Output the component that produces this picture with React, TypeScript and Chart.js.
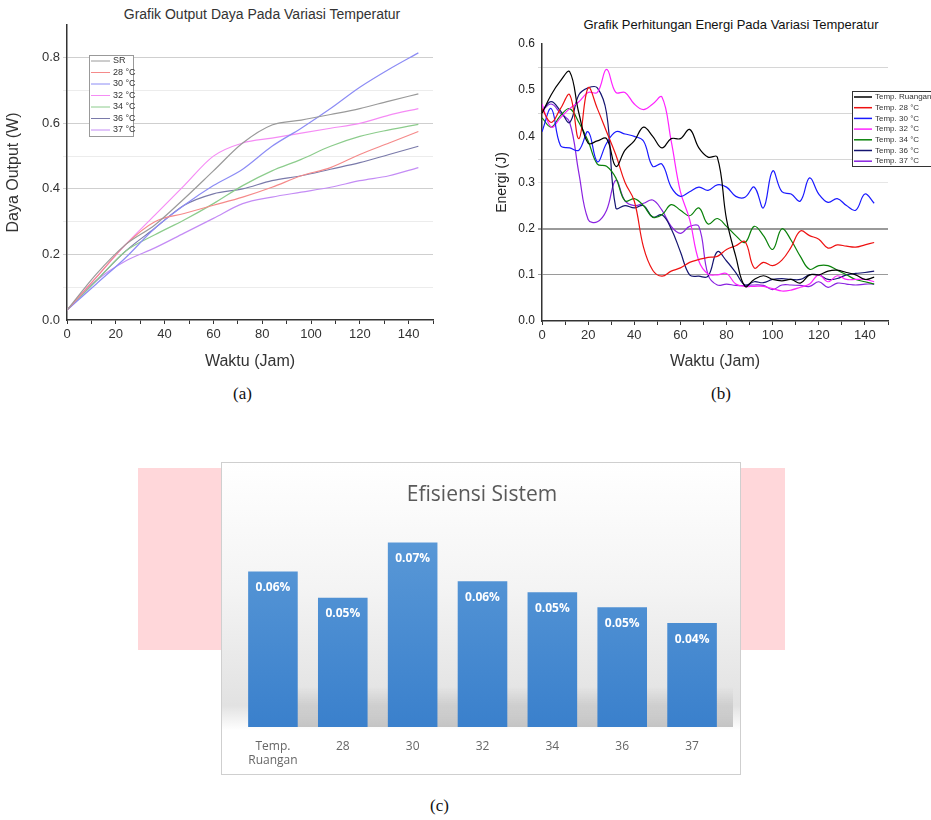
import * as React from 'react';
import { Chart, registerables } from 'chart.js';

Chart.register(...registerables);

// ---- (a) Daya output ----
const hoursA = [0, 12, 24, 36, 48, 60, 72, 84, 96, 108, 120, 132, 144];
const labelsA = ['SR', '28 °C', '30 °C', '32 °C', '34 °C', '36 °C', '37 °C'];
const colorsA = ['#9a9a9a', '#f58a8a', '#8c8cf5', '#f58cf5', '#8ccc8c', '#7a7aaa', '#c48cf5'];
const powerSR = [0.03, 0.14, 0.23, 0.29, 0.37, 0.455, 0.54, 0.595, 0.61, 0.627, 0.645, 0.668, 0.69];
const power28 = [0.03, 0.13, 0.23, 0.3, 0.325, 0.35, 0.375, 0.405, 0.44, 0.465, 0.505, 0.54, 0.575];
const power30 = [0.03, 0.11, 0.19, 0.28, 0.35, 0.41, 0.46, 0.53, 0.585, 0.645, 0.71, 0.765, 0.815];
const power32 = [0.03, 0.13, 0.23, 0.32, 0.41, 0.5, 0.54, 0.555, 0.57, 0.585, 0.6, 0.625, 0.645];
const power34 = [0.03, 0.12, 0.21, 0.26, 0.305, 0.355, 0.41, 0.455, 0.49, 0.53, 0.56, 0.58, 0.597];
const power36 = [0.03, 0.12, 0.21, 0.28, 0.35, 0.385, 0.4, 0.425, 0.44, 0.46, 0.48, 0.505, 0.53];
const power37 = [0.03, 0.12, 0.18, 0.22, 0.265, 0.31, 0.355, 0.375, 0.39, 0.405, 0.425, 0.44, 0.465];
const powerAll = [powerSR, power28, power30, power32, power34, power36, power37];

// ---- (b) Energi ----
const hoursB = [0, 4, 8, 12, 16, 20, 24, 28, 32, 36, 40, 44, 48, 52, 56, 60, 64, 68, 72, 76, 80, 84, 88, 92, 96, 100, 104, 108, 112, 116, 120, 124, 128, 132, 136, 140, 144];
const labelsB = ['Temp. Ruangan', 'Temp. 28 °C', 'Temp. 30 °C', 'Temp. 32 °C', 'Temp. 34 °C', 'Temp. 36 °C', 'Temp. 37 °C'];
const colorsB = ['#000000', '#ee1111', '#1a1aff', '#ff22ff', '#0a820a', '#141470', '#8a22e0'];
const energyRuang = [0.45, 0.49, 0.52, 0.54, 0.45, 0.385, 0.39, 0.395, 0.335, 0.37, 0.39, 0.42, 0.4, 0.375, 0.395, 0.395, 0.415, 0.375, 0.355, 0.355, 0.22, 0.14, 0.075, 0.09, 0.098, 0.09, 0.087, 0.09, 0.082, 0.1, 0.1, 0.108, 0.11, 0.105, 0.1, 0.09, 0.095];
const energy28 = [0.46, 0.43, 0.46, 0.49, 0.395, 0.505, 0.46, 0.41, 0.36, 0.3, 0.26, 0.16, 0.11, 0.097, 0.108, 0.115, 0.127, 0.133, 0.138, 0.14, 0.155, 0.163, 0.172, 0.115, 0.127, 0.12, 0.132, 0.16, 0.195, 0.185, 0.177, 0.158, 0.165, 0.162, 0.16, 0.165, 0.17];
const energy30 = [0.41, 0.46, 0.38, 0.375, 0.37, 0.41, 0.345, 0.385, 0.41, 0.405, 0.4, 0.39, 0.335, 0.34, 0.29, 0.27, 0.28, 0.29, 0.283, 0.295, 0.29, 0.27, 0.268, 0.29, 0.245, 0.325, 0.28, 0.275, 0.26, 0.31, 0.275, 0.257, 0.265, 0.25, 0.24, 0.275, 0.255];
const energy32 = [0.47, 0.42, 0.44, 0.46, 0.475, 0.495, 0.495, 0.545, 0.495, 0.495, 0.47, 0.458, 0.47, 0.485, 0.39, 0.28, 0.22, 0.13, 0.102, 0.1, 0.103, 0.08, 0.075, 0.075, 0.075, 0.07, 0.065, 0.067, 0.073, 0.08, 0.1, 0.085, 0.098, 0.09, 0.09, 0.09, 0.085];
const energy34 = [0.44, 0.42, 0.445, 0.46, 0.43, 0.39, 0.34, 0.335, 0.31, 0.26, 0.265, 0.25, 0.225, 0.23, 0.252, 0.24, 0.228, 0.245, 0.21, 0.222, 0.205, 0.185, 0.17, 0.205, 0.185, 0.155, 0.2, 0.175, 0.14, 0.112, 0.12, 0.12, 0.11, 0.1, 0.09, 0.085, 0.08];
const energy36 = [0.455, 0.475, 0.455, 0.43, 0.49, 0.505, 0.505, 0.45, 0.245, 0.25, 0.245, 0.25, 0.225, 0.23, 0.2, 0.15, 0.1, 0.097, 0.097, 0.15, 0.13, 0.105, 0.078, 0.085, 0.083, 0.09, 0.092, 0.09, 0.09, 0.1, 0.1, 0.09, 0.092, 0.1, 0.103, 0.105, 0.108];
const energy37 = [0.455, 0.47, 0.45, 0.43, 0.32, 0.22, 0.215, 0.24, 0.305, 0.26, 0.25, 0.255, 0.262, 0.24, 0.205, 0.19, 0.205, 0.205, 0.1, 0.078, 0.08, 0.077, 0.077, 0.078, 0.077, 0.068, 0.078, 0.078, 0.077, 0.075, 0.085, 0.073, 0.082, 0.08, 0.078, 0.08, 0.08];
const energyAll = [energyRuang, energy28, energy30, energy32, energy34, energy36, energy37];

// ---- (c) Efisiensi ----
const categoriesC = [['Temp.', 'Ruangan'], '28', '30', '32', '34', '36', '37'];
const efficiency = [0.059, 0.049, 0.07, 0.0553, 0.0511, 0.0454, 0.0394];

const FONT = '"Liberation Sans", Arial, sans-serif';

// legend drawn as a small box inside the canvas
const boxLegend = {
    id: 'boxLegend',
    afterDraw(chart: any, _args: any, opts: any) {
        if (!opts || !opts.show) return;
        const ctx = chart.ctx;
        ctx.save();
        ctx.fillStyle = '#fff';
        ctx.fillRect(opts.x, opts.y, opts.w, opts.h);
        ctx.strokeStyle = opts.border;
        ctx.lineWidth = 1;
        ctx.strokeRect(opts.x + 0.5, opts.y + 0.5, opts.w, opts.h);
        ctx.font = opts.font;
        ctx.textBaseline = 'middle';
        chart.data.datasets.forEach((ds: any, i: number) => {
            const yy = opts.y + opts.first + i * opts.rowH;
            ctx.strokeStyle = ds.borderColor;
            ctx.lineWidth = opts.lw;
            ctx.beginPath();
            ctx.moveTo(opts.x + 2, yy);
            ctx.lineTo(opts.x + 2 + opts.lineLen, yy);
            ctx.stroke();
            ctx.fillStyle = '#333';
            ctx.fillText(ds.label, opts.x + 5 + opts.lineLen, yy);
        });
        ctx.restore();
    },
};

function fitWidth(w: number) {
    return (scale: any) => { scale.width = w; };
}
function fitHeight(h: number) {
    return (scale: any) => { scale.height = h; };
}

function xAxis(h: number) {
    return {
        type: 'linear',
        min: 0,
        max: 150,
        afterFit: fitHeight(h),
        border: { color: '#333', width: 1.5 },
        grid: { drawOnChartArea: false, tickLength: 4, color: '#333' },
        ticks: {
            stepSize: 10,
            autoSkip: false,
            maxRotation: 0,
            minRotation: 0,
            color: '#333',
            font: { family: FONT, size: 13 },
            callback: (v: number) => (v % 20 === 0 && v <= 140 ? String(v) : ''),
        },
        title: { display: true, text: 'Waktu (Jam)', color: '#333', font: { family: FONT, size: 16 }, padding: { top: 2 } },
    };
}

function ChartA() {
    const ref = React.useRef<HTMLCanvasElement | null>(null);
    React.useEffect(() => {
        if (!ref.current) return;
        const chart = new Chart(ref.current, {
            type: 'line',
            data: {
                datasets: powerAll.map((arr, i) => ({
                    label: labelsA[i],
                    data: arr.map((v, j) => ({ x: hoursA[j], y: v })),
                    borderColor: colorsA[i],
                    borderWidth: 1.2,
                    pointRadius: 0,
                    tension: 0.4,
                    cubicInterpolationMode: 'monotone',
                })),
            },
            options: {
                animation: false,
                responsive: false,
                layout: { padding: { top: 25, right: 17, left: 0, bottom: 0 } },
                plugins: {
                    legend: { display: false },
                    tooltip: { enabled: false },
                    boxLegend: { show: true, x: 89, y: 55, w: 44, h: 81, first: 6, rowH: 11.5, lineLen: 19, lw: 1, font: `9px ${FONT}`, border: '#999' },
                } as any,
                scales: {
                    x: xAxis(55) as any,
                    y: {
                        min: 0,
                        max: 0.9,
                        afterFit: fitWidth(67),
                        border: { color: '#333', width: 1.5 },
                        grid: {
                            tickLength: 4,
                            color: (c: any) => {
                                const v = Math.round(c.tick.value * 10);
                                if (v === 0 || v === 9) return 'rgba(0,0,0,0)';
                                return v % 2 === 0 ? '#cfcfcf' : '#ececec';
                            },
                        },
                        ticks: {
                            stepSize: 0.1,
                            color: '#333',
                            font: { family: FONT, size: 13 },
                            callback: (v: number) => (Math.round(v * 10) % 2 === 0 ? v.toFixed(1) : ''),
                        },
                        title: { display: true, text: 'Daya Output (W)', color: '#333', font: { family: FONT, size: 16 } },
                    },
                },
            },
            plugins: [boxLegend],
        });
        return () => chart.destroy();
    }, []);
    return <canvas ref={ref} width={450} height={375} style={{ position: 'absolute', left: 0, top: 0 }} />;
}

function ChartB() {
    const ref = React.useRef<HTMLCanvasElement | null>(null);
    React.useEffect(() => {
        if (!ref.current) return;
        const chart = new Chart(ref.current, {
            type: 'line',
            data: {
                datasets: energyAll.map((arr, i) => ({
                    label: labelsB[i],
                    data: arr.map((v, j) => ({ x: hoursB[j], y: v })),
                    borderColor: colorsB[i],
                    borderWidth: 1.2,
                    pointRadius: 0,
                    tension: 0.4,
                })),
            },
            options: {
                animation: false,
                responsive: false,
                layout: { padding: { top: 44, right: 43, left: 0, bottom: 0 } },
                plugins: {
                    legend: { display: false },
                    tooltip: { enabled: false },
                    boxLegend: { show: true, x: 362, y: 91, w: 80, h: 75, first: 6, rowH: 10.7, lineLen: 18, lw: 1.5, font: `8px ${FONT}`, border: '#333' },
                } as any,
                scales: {
                    x: xAxis(54) as any,
                    y: {
                        min: 0,
                        max: 0.6,
                        afterFit: fitWidth(52),
                        border: { color: '#333', width: 1.5 },
                        grid: {
                            tickLength: 4,
                            color: (c: any) => {
                                const v = Math.round(c.tick.value * 100);
                                if (v === 10 || v === 20) return '#9a9a9a';
                                if (v === 30) return '#e6e6e6';
                                if (v === 35 || v === 45 || v === 55) return '#d6d6d6';
                                return 'rgba(0,0,0,0)';
                            },
                            lineWidth: (c: any) => (Math.round(c.tick.value * 100) === 20 ? 2 : 1),
                        },
                        ticks: {
                            stepSize: 0.05,
                            color: '#222',
                            font: { family: FONT, size: 12 },
                            callback: (v: number) => (Math.round(v * 100) % 10 === 0 ? v.toFixed(1) : ''),
                        },
                        title: { display: true, text: 'Energi (J)', color: '#222', font: { family: FONT, size: 14 } },
                    },
                },
            },
            plugins: [boxLegend],
        });
        return () => chart.destroy();
    }, []);
    return <canvas ref={ref} width={441} height={375} style={{ position: 'absolute', left: 490, top: 0 }} />;
}

const barLabels = {
    id: 'barLabels',
    afterDatasetsDraw(chart: any) {
        const ctx = chart.ctx;
        const meta = chart.getDatasetMeta(0);
        ctx.save();
        ctx.font = `bold 12px "Open Sans", sans-serif`;
        ctx.fillStyle = '#ffffff';
        ctx.textAlign = 'center';
        ctx.textBaseline = 'middle';
        meta.data.forEach((bar: any, i: number) => {
            const v = chart.data.datasets[0].data[i] as number;
            ctx.fillText(v.toFixed(2) + '%', bar.x, bar.y + 16);
        });
        ctx.restore();
    },
    beforeDatasetsDraw(chart: any) {
        // soft floor shadow behind the bars
        const { ctx, chartArea } = chart;
        ctx.save();
        const g = ctx.createLinearGradient(0, chartArea.bottom - 40, 0, chartArea.bottom);
        g.addColorStop(0, 'rgba(150,150,150,0)');
        g.addColorStop(1, 'rgba(150,150,150,0.55)');
        ctx.fillStyle = g;
        ctx.fillRect(chartArea.left + 20, chartArea.bottom - 40, chartArea.right - chartArea.left - 14, 40);
        ctx.restore();
    },
};

function ChartC() {
    const ref = React.useRef<HTMLCanvasElement | null>(null);
    React.useEffect(() => {
        if (!ref.current) return;
        const chart = new Chart(ref.current, {
            type: 'bar',
            data: {
                labels: categoriesC as any,
                datasets: [{
                    data: efficiency,
                    backgroundColor: (c: any) => {
                        const area = c.chart.chartArea;
                        if (!area) return '#4a8fd6';
                        const g = c.chart.ctx.createLinearGradient(0, area.top, 0, area.bottom);
                        g.addColorStop(0, '#5d9bd8');
                        g.addColorStop(1, '#3a80cc');
                        return g;
                    },
                    categoryPercentage: 1,
                    barPercentage: 0.71,
                }],
            },
            options: {
                animation: false,
                responsive: false,
                layout: { padding: { top: 53, right: 15, left: 16, bottom: 0 } },
                plugins: { legend: { display: false }, tooltip: { enabled: false } },
                scales: {
                    x: {
                        afterFit: fitHeight(49),
                        border: { display: false },
                        grid: { display: false },
                        ticks: { color: '#666', font: { family: '"Open Sans", sans-serif', size: 12 }, padding: 4, maxRotation: 0 },
                    },
                    y: { display: false, min: 0, max: 0.08 },
                },
            },
            plugins: [barLabels],
        });
        return () => chart.destroy();
    }, []);
    return <canvas ref={ref} width={520} height={313} style={{ position: 'absolute', left: 0, top: 0 }} />;
}

const caption: React.CSSProperties = { position: 'absolute', fontFamily: '"Liberation Serif", serif', fontSize: 17, color: '#111' };
const titleStyle: React.CSSProperties = { position: 'absolute', fontFamily: FONT, fontSize: 14, color: '#333', whiteSpace: 'nowrap', transform: 'translateX(-50%)' };

const App = () => (
    <div style={{ position: 'absolute', left: 0, top: 0, width: 931, height: 820, background: '#fff', overflow: 'hidden' }}>
        <div style={{ ...titleStyle, left: 262, top: 6 }}>Grafik Output Daya Pada Variasi Temperatur</div>
        <div style={{ ...titleStyle, left: 731, top: 17, color: '#111', fontSize: 13 }}>Grafik Perhitungan Energi Pada Variasi Temperatur</div>
        <ChartA />
        <ChartB />
        <div style={{ ...caption, left: 233, top: 384 }}>(a)</div>
        <div style={{ ...caption, left: 711, top: 384 }}>(b)</div>
        <div style={{ position: 'absolute', left: 138, top: 468, width: 90, height: 182, background: '#ffd7da' }} />
        <div style={{ position: 'absolute', left: 735, top: 468, width: 50, height: 182, background: '#ffd7da' }} />
        <div style={{ position: 'absolute', left: 221, top: 462, width: 520, height: 313, border: '1px solid #cfcfcf', boxSizing: 'border-box', background: 'linear-gradient(#ffffff 0%, #f4f4f4 40%, #e2e2e2 78%, #ffffff 86%, #ffffff 100%)' }}>
            <ChartC />
            <div style={{ position: 'absolute', left: 0, width: 520, top: 16, textAlign: 'center', fontFamily: '"Open Sans", sans-serif', fontSize: 21, color: '#595959' }}>Efisiensi Sistem</div>
        </div>
        <div style={{ ...caption, left: 430, top: 796 }}>(c)</div>
    </div>
);

export default App;
